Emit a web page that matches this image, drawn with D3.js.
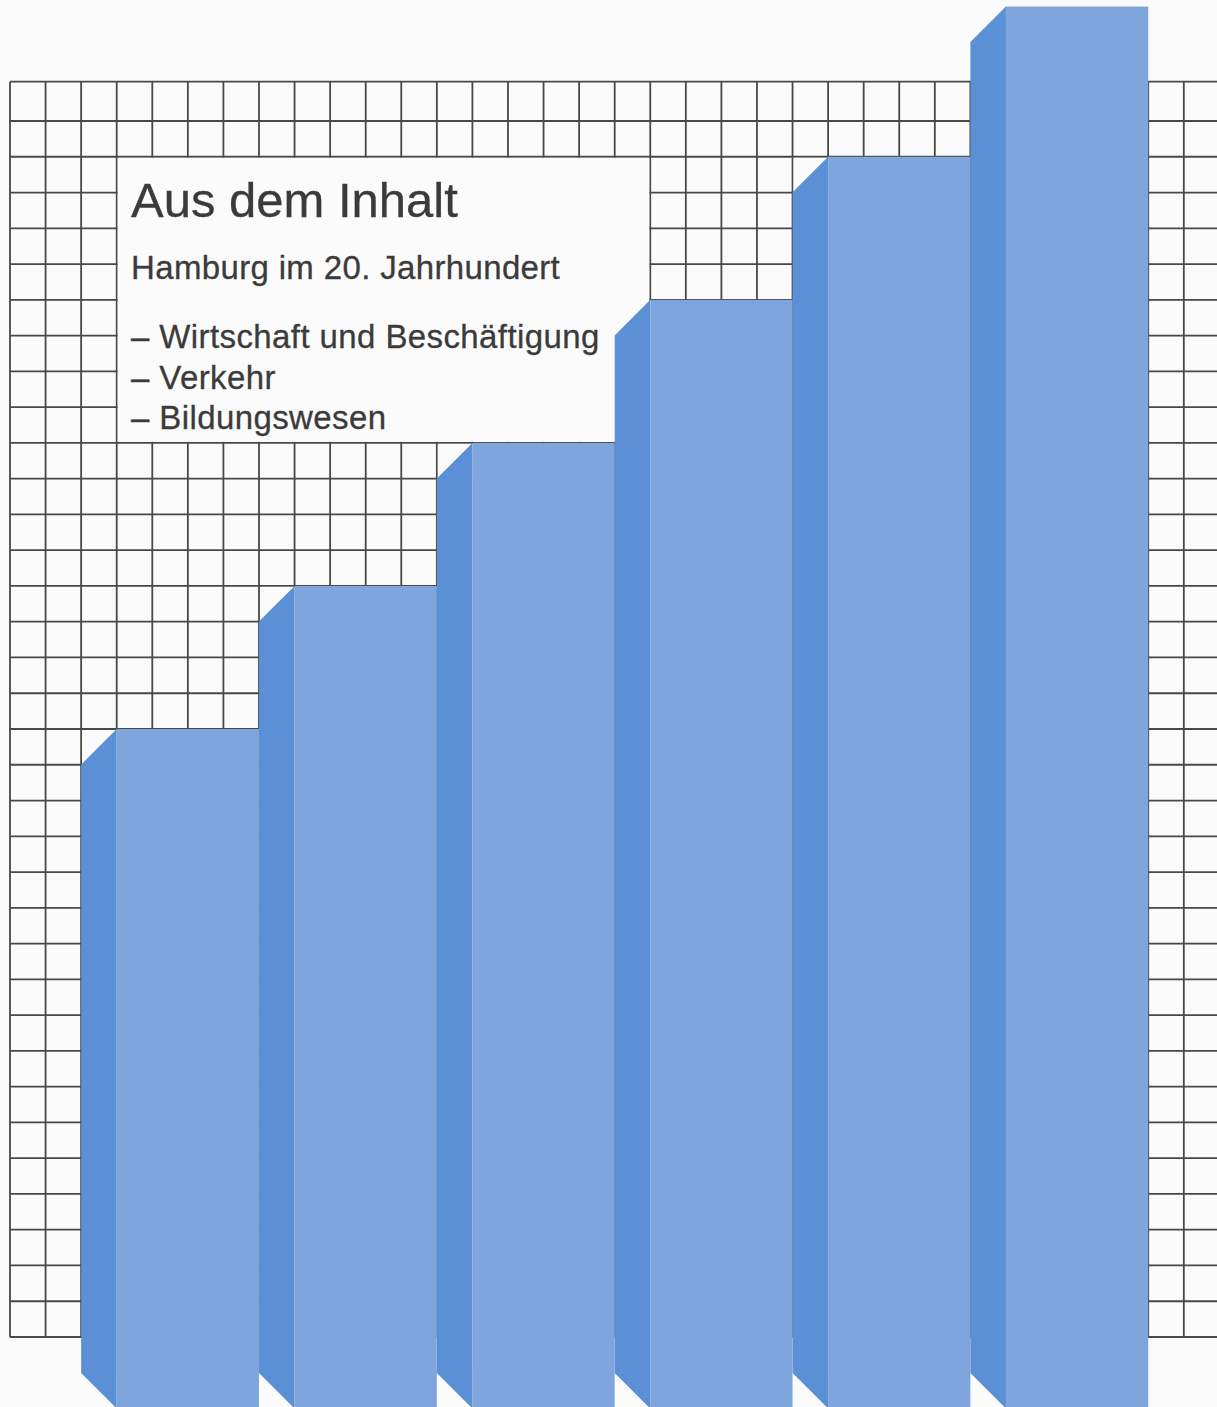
<!DOCTYPE html>
<html>
<head>
<meta charset="utf-8">
<script src="https://cdn.jsdelivr.net/npm/d3@7"></script>
<style>
  html, body { margin: 0; padding: 0; background: #fbfbfb; }
  svg { display: block; }
</style>
</head>
<body>
<script>
// Stepped 3D columns over a square grid, with a contents panel.
const categories = ["I", "II", "III", "IV", "V", "VI"];
const values = [17, 21, 25, 29, 33, 37.2];       // column heights in grid rows
const titleText = "Aus dem Inhalt";
const subtitleText = "Hamburg im 20. Jahrhundert";
const bulletItems = ["Wirtschaft und Beschäftigung", "Verkehr", "Bildungswesen"];

const W = 1217, H = 1407;
const svg = d3.select("body").append("svg").attr("width", W).attr("height", H);

// grid coordinates: columns and rows in cell units
const colCount = 34, rowCount = 34, gridTopRow = 35.1, barBase = -2;
const x = d3.scaleLinear().domain([0, colCount]).range([10, 10 + colCount * 35.57]);
const y = d3.scaleLinear().domain([0, rowCount]).range([1337, 121]);

const gridStroke = "#474945";
const g = svg.append("g");

// grid lines
const cols = d3.range(0, colCount + 1).filter(c => x(c) <= W + 1);
const rows = d3.range(0, rowCount + 1).concat([gridTopRow]);
g.selectAll("line.v").data(cols).join("line")
  .attr("x1", d => x(d)).attr("x2", d => x(d))
  .attr("y1", y(gridTopRow)).attr("y2", y(0))
  .attr("stroke", gridStroke).attr("stroke-width", 1.8);
g.selectAll("line.h").data(rows).join("line")
  .attr("x1", x(0)).attr("x2", W + 2)
  .attr("y1", d => y(d)).attr("y2", d => y(d))
  .attr("stroke", gridStroke).attr("stroke-width", 1.8);

// each column: 1 cell side face + 4 cell front face, period of 5 cells
const bars = values.map((v, i) => ({
  cat: categories[i], v,
  sL: x(2 + 5 * i), fL: x(3 + 5 * i), fR: x(7 + 5 * i),
  top: y(v), bottom: y(barBase)
}));
const depth = x(1) - x(0);

// clear the grid behind the panel and behind each column's footprint
const bg = "#fbfbfb";
const box = { x0: x(3), x1: x(18), y0: y(33), y1: y(25) };
g.append("rect")
  .attr("x", box.x0 + 1).attr("y", box.y0 + 1)
  .attr("width", box.x1 - box.x0 - 2).attr("height", box.y1 - box.y0 - 2)
  .attr("fill", bg);
g.selectAll("rect.clear").data(bars).join("rect")
  .attr("x", d => d.sL + 1).attr("y", d => d.top + 1)
  .attr("width", d => d.fR - d.sL - 2).attr("height", d => H - d.top)
  .attr("fill", bg);

// side faces
g.selectAll("path.side").data(bars).join("path")
  .attr("d", d => `M${d.sL},${d.top + depth}L${d.fL},${d.top}L${d.fL},${d.bottom}L${d.sL},${d.bottom - depth}Z`)
  .attr("fill", "#5b8fd6");

// front faces
g.selectAll("rect.front").data(bars).join("rect")
  .attr("x", d => d.fL).attr("y", d => d.top)
  .attr("width", d => d.fR - d.fL).attr("height", d => d.bottom - d.top)
  .attr("fill", "#7fa6dc");

// panel text
const txt = svg.append("g")
  .attr("font-family", "'Liberation Sans', Arial, Helvetica, sans-serif")
  .attr("fill", "#3b3b3b")
  .attr("stroke", "#3b3b3b").attr("stroke-width", 0.3);
txt.append("text").attr("x", 131).attr("y", 217)
  .attr("font-size", 49).text(titleText);
txt.append("text").attr("x", 131).attr("y", 279)
  .attr("font-size", 33).attr("letter-spacing", 0.35).text(subtitleText);
txt.selectAll("text.item").data(bulletItems).join("text")
  .attr("x", 131).attr("y", (d, i) => 348 + i * 40.7)
  .attr("font-size", 33).attr("letter-spacing", 0.4)
  .text(d => "\u2013 " + d);
</script>
</body>
</html>
